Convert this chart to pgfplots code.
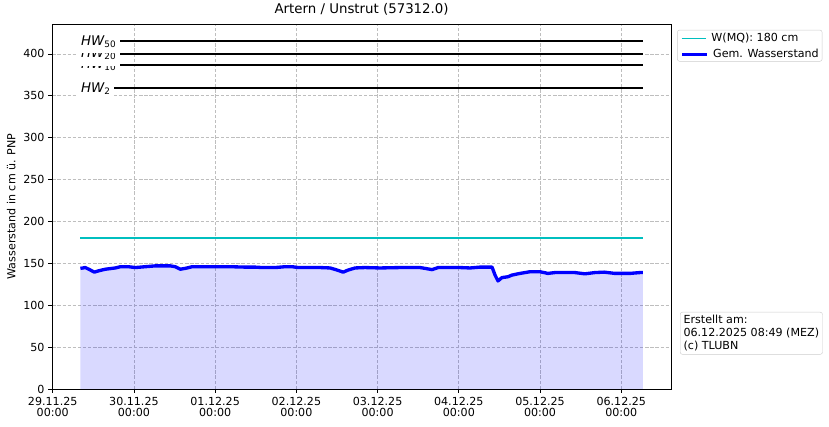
\documentclass[border=0pt]{standalone}
\usepackage{fontspec}
\setmainfont{DejaVu Sans}
\usepackage{pgfplots}
\pgfplotsset{compat=1.18}
\definecolor{mqcol}{RGB}{0,191,191}
\definecolor{gridcol}{RGB}{190,190,190}
\definecolor{boxcol}{RGB}{204,204,204}
\newcommand{\legline}[2]{\tikz[baseline=-0.55ex]\draw[#1,line width=#2] (0,0) -- (0.78cm,0);}
\begin{document}
\begin{tikzpicture}
\path[use as bounding box] (-47.07pt,-33.3pt) rectangle (699.03pt,350.1pt);
\begin{axis}[
  scale only axis,
  width=556.8pt, height=328.5pt,
  xmin=-0.005, xmax=7.612,
  ymin=0, ymax=435.75,
  clip=false,
  axis line style={black, line width=0.6pt},
  xtick={0,1,2,3,4,5,6,7},
  xticklabels={{29.11.25\\00:00},{30.11.25\\00:00},{01.12.25\\00:00},{02.12.25\\00:00},{03.12.25\\00:00},{04.12.25\\00:00},{05.12.25\\00:00},{06.12.25\\00:00}},
  xticklabel style={align=center, font=\fontsize{10}{10.5}\selectfont},
  ytick={0,50,100,150,200,250,300,350,400},
  yticklabel style={font=\fontsize{10}{12}\selectfont},
  /pgf/number format/assume math mode=true,
  tick align=outside,
  major tick length=3.5pt,
  tick style={black, line width=0.6pt},
  xtick pos=bottom, ytick pos=left,
  grid=major,
  major grid style={gridcol, dash pattern=on 3pt off 1.6pt, line width=0.7pt},
  ylabel={Wasserstand in cm ü. PNP},
  ylabel style={font=\fontsize{10}{12}\selectfont},
  title={Artern / Unstrut (57312.0)},
  title style={font=\fontsize{12}{14}\selectfont, yshift=-2pt},
]
\addplot[color=mqcol, line width=1.5pt, forget plot] coordinates {(0.341,180) (7.266,180)};
\addplot[draw=none, fill=blue, fill opacity=0.15, forget plot] table {
x y
0.341 144
0.402 145
0.464 142
0.513 139.5
0.562 141
0.648 143
0.771 144.5
0.833 146
0.931 146
1.017 145
1.140 146
1.263 147
1.448 147
1.509 146
1.571 143
1.632 144
1.718 146
1.940 146
2.186 146
2.370 145.5
2.493 145.5
2.579 145
2.739 145
2.862 146
2.948 146
3.022 145
3.293 145
3.416 144.5
3.502 142
3.576 139.5
3.637 142
3.723 144.5
3.846 145
4.031 144.5
4.277 145
4.523 145
4.585 144
4.671 142.5
4.745 145
5.015 145
5.138 144.5
5.261 145.5
5.409 145.5
5.446 136
5.482 129
5.531 133
5.605 134
5.654 136
5.753 138
5.876 140
5.999 140
6.097 138
6.183 139
6.429 139
6.552 137.5
6.675 139
6.790 139.5
6.921 138
7.106 138
7.229 139
7.266 139
} \closedcycle;
\addplot[color=blue, line width=3pt, line join=round, forget plot] table {
x y
0.341 144
0.402 145
0.464 142
0.513 139.5
0.562 141
0.648 143
0.771 144.5
0.833 146
0.931 146
1.017 145
1.140 146
1.263 147
1.448 147
1.509 146
1.571 143
1.632 144
1.718 146
1.940 146
2.186 146
2.370 145.5
2.493 145.5
2.579 145
2.739 145
2.862 146
2.948 146
3.022 145
3.293 145
3.416 144.5
3.502 142
3.576 139.5
3.637 142
3.723 144.5
3.846 145
4.031 144.5
4.277 145
4.523 145
4.585 144
4.671 142.5
4.745 145
5.015 145
5.138 144.5
5.261 145.5
5.409 145.5
5.446 136
5.482 129
5.531 133
5.605 134
5.654 136
5.753 138
5.876 140
5.999 140
6.097 138
6.183 139
6.429 139
6.552 137.5
6.675 139
6.790 139.5
6.921 138
7.106 138
7.229 139
7.266 139
};
\addplot[black, line width=1.8pt, forget plot] coordinates {(0.341,415) (7.266,415)};
\addplot[black, line width=1.8pt, forget plot] coordinates {(0.341,400) (7.266,400)};
\addplot[black, line width=1.8pt, forget plot] coordinates {(0.341,387) (7.266,387)};
\addplot[black, line width=1.8pt, forget plot] coordinates {(0.341,359) (7.266,359)};
\tikzset{hwlab/.style={anchor=west, fill=white, inner xsep=3.5pt, inner ysep=5.5pt, xshift=-3pt, font=\fontsize{12}{14}\selectfont}}
\node[hwlab] at (axis cs:0.341,359) {\itshape HW\textsubscript{\upshape 2}};
\node[hwlab] at (axis cs:0.341,387) {\itshape HW\textsubscript{\upshape 10}};
\node[hwlab] at (axis cs:0.341,400) {\itshape HW\textsubscript{\upshape 20}};
\node[hwlab] at (axis cs:0.341,415) {\itshape HW\textsubscript{\upshape 50}};
\node[anchor=north west, draw=boxcol, rounded corners=2pt, fill=white, align=left, inner xsep=3pt, inner ysep=3pt,
  font=\fontsize{10}{14.4}\selectfont] at (rel axis cs:1.01,0.984)
  {\legline{mqcol}{1.5pt}\hspace{4pt}W(MQ): 180 cm\\\legline{blue}{3pt}\hspace{4pt}Gem. Wasserstand};
\node[anchor=north west, draw=boxcol, rounded corners=2pt, fill=white, align=left, inner sep=3pt,
  font=\fontsize{10}{11.5}\selectfont] at (rel axis cs:1.0146,0.211) {Erstellt am:\\06.12.2025 08:49 (MEZ)\\(c) TLUBN};
\end{axis}
\end{tikzpicture}
\end{document}
